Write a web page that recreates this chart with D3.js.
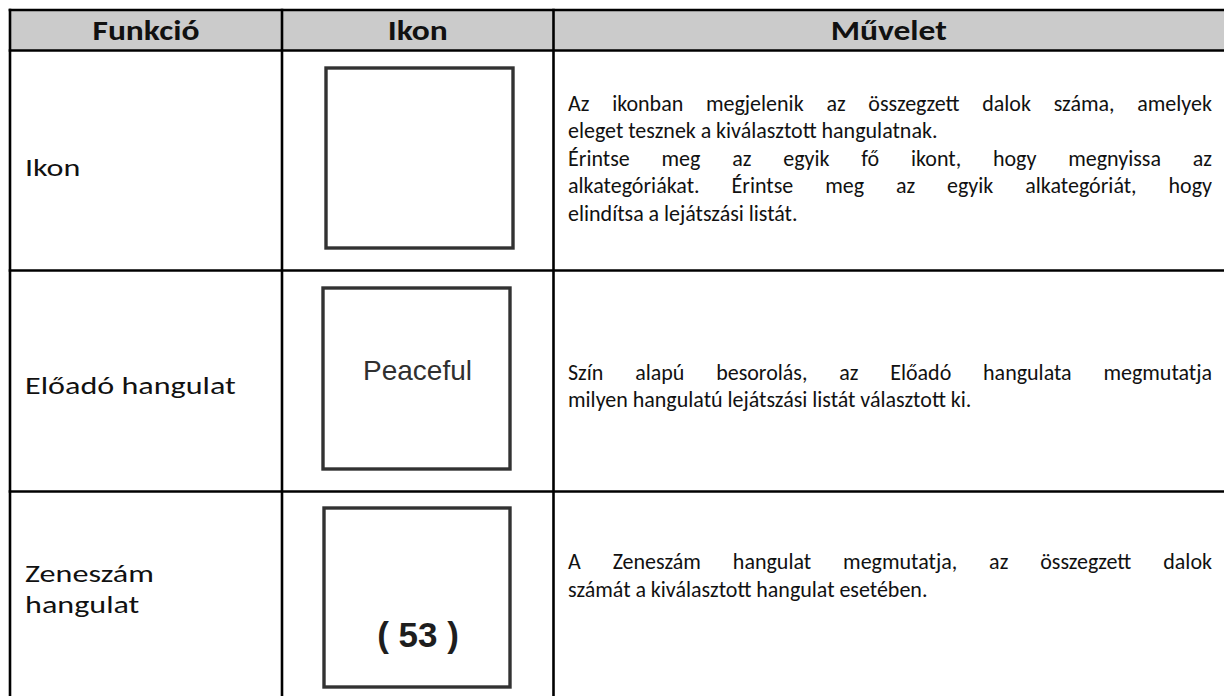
<!DOCTYPE html>
<html>
<head>
<meta charset="utf-8">
<script src="https://cdn.jsdelivr.net/npm/d3@7"></script>
<style>
  html, body { margin: 0; padding: 0; background: #fff; }
  svg { display: block; }
</style>
</head>
<body>
<svg id="chart" width="1224" height="696"></svg>
<script>
// ---- table content ----
const headers = ["Funkció", "Ikon", "Művelet"];
const functionLabels = [["Ikon"], ["Előadó hangulat"], ["Zeneszám", "hangulat"]];
const iconLabels = ["", "Peaceful", "( 53 )"];
const descriptions = [
  [
    ["Az ikonban megjelenik az összegzett dalok száma, amelyek", "eleget tesznek a kiválasztott hangulatnak."],
    ["Érintse meg az egyik fő ikont, hogy megnyissa az", "alkategóriákat. Érintse meg az egyik alkategóriát, hogy", "elindítsa a lejátszási listát."]
  ],
  [
    ["Szín alapú besorolás, az Előadó hangulata megmutatja", "milyen hangulatú lejátszási listát választott ki."]
  ],
  [
    ["A Zeneszám hangulat megmutatja, az összegzett dalok", "számát a kiválasztott hangulat esetében."]
  ]
];

// ---- layout ----
const colEdges = [10, 282, 553.5, 1240];
const rowEdges = [10, 50.5, 270.5, 491.5, 720];
const descCenters = [158, 386, 575.5];
const labelCenters = [167, 385, 588.5];
const lineStep = 27.5;
const labelStep = 31;
const boxes = [[326, 68, 187, 180], [323, 288, 187, 181], [324, 508, 186, 179]];
const textFont = "Calibri, Carlito, Lato, sans-serif";

const svg = d3.select("#chart");
const x = d3.scaleOrdinal().domain([0,1,2,3]).range(colEdges);
const y = d3.scaleOrdinal().domain([0,1,2,3,4]).range(rowEdges);

// stretched (multi-line) text helper: one text element, lines as tspans
function stretchText(parent, lines, tx, ty, opts) {
  const t = parent.append("text")
    .attr("transform", `translate(${tx},${ty}) scale(${opts.sx || 1},1)`)
    .attr("font-family", opts.family || textFont)
    .attr("font-size", opts.size)
    .attr("font-weight", opts.weight || "normal")
    .attr("fill", opts.fill || "#111")
    .attr("text-anchor", opts.anchor || "start")
    .style("white-space", "pre");
  [].concat(lines).forEach((l, i) => {
    t.append("tspan").attr("x", 0).attr("y", i * (opts.step || 0)).text(l);
  });
  return t;
}

// header background
svg.append("rect").attr("x", x(0)).attr("y", y(0))
  .attr("width", x(3) - x(0)).attr("height", y(1) - y(0))
  .attr("fill", "#cbcbcb");

// header text
headers.forEach((h, i) => {
  const cx = i < 2 ? (x(i) + x(i + 1)) / 2 : (x(2) + 1224) / 2;
  stretchText(svg, h, cx, (y(0) + y(1)) / 2 + 9.5,
    { size: 27.5, weight: "bold", sx: 1.22, anchor: "middle", fill: "#111" });
});

// function labels
functionLabels.forEach((lines, r) => {
  const c = labelCenters[r];
  const start = c - (lines.length - 1) * labelStep / 2;
  stretchText(svg, lines, 25, start + 9, { size: 25.5, sx: 1.26, step: labelStep });
});

// icon boxes
const defs = svg.append("defs");
defs.append("filter").attr("id", "soft").append("feGaussianBlur").attr("stdDeviation", 0.45);
svg.selectAll("rect.box").data(boxes).join("rect")
  .attr("class", "box")
  .attr("x", d => d[0]).attr("y", d => d[1]).attr("width", d => d[2]).attr("height", d => d[3])
  .attr("fill", "#fff").attr("stroke", "#333").attr("stroke-width", 3.4)
  .attr("filter", "url(#soft)");

// icon labels
stretchText(svg, iconLabels[1], boxes[1][0] + boxes[1][2] / 2 + 1, 380,
  { family: "Liberation Sans, Arial, sans-serif", size: 28, fill: "#303030", anchor: "middle" });
stretchText(svg, iconLabels[2], boxes[2][0] + boxes[2][2] / 2 + 1, 646.5,
  { family: "Liberation Sans, Arial, sans-serif", size: 35, weight: "bold", fill: "#1e1e1e", anchor: "middle" });

// descriptions (justified)
const left = 568, right = 1212;
const fs = 22;
descriptions.forEach((paras, r) => {
  const all = [];
  paras.forEach(p => p.forEach((line, i) => all.push({ line, justify: i < p.length - 1 })));
  const start = descCenters[r] - (all.length - 1) * lineStep / 2;
  all.forEach((L, li) => {
    const yy = start + li * lineStep + 7.5;
    const g = svg.append("g");
    const words = L.line.split(" ");
    const nodes = words.map(w => g.append("text").attr("y", yy)
      .attr("font-family", textFont).attr("font-size", fs).attr("fill", "#111").text(w));
    const widths = nodes.map(n => n.node().getComputedTextLength());
    const total = d3.sum(widths);
    const spaceW = fs * 0.22;
    const gap = L.justify ? (right - left - total) / (words.length - 1) : spaceW;
    let cx = left;
    nodes.forEach((n, k) => { n.attr("x", cx); cx += widths[k] + gap; });
  });
});

// grid lines
const lines = [];
[0, 1, 2, 3].forEach(r => lines.push([x(0) - 1.3, y(r), x(3), y(r)]));
[0, 1, 2].forEach(i => lines.push([x(i), y(0) - 1.3, x(i), y(4)]));
svg.selectAll("line.grid").data(lines).join("line")
  .attr("class", "grid")
  .attr("x1", d => d[0]).attr("y1", d => d[1]).attr("x2", d => d[2]).attr("y2", d => d[3])
  .attr("stroke", "#000").attr("stroke-width", 2.6);
</script>
</body>
</html>
